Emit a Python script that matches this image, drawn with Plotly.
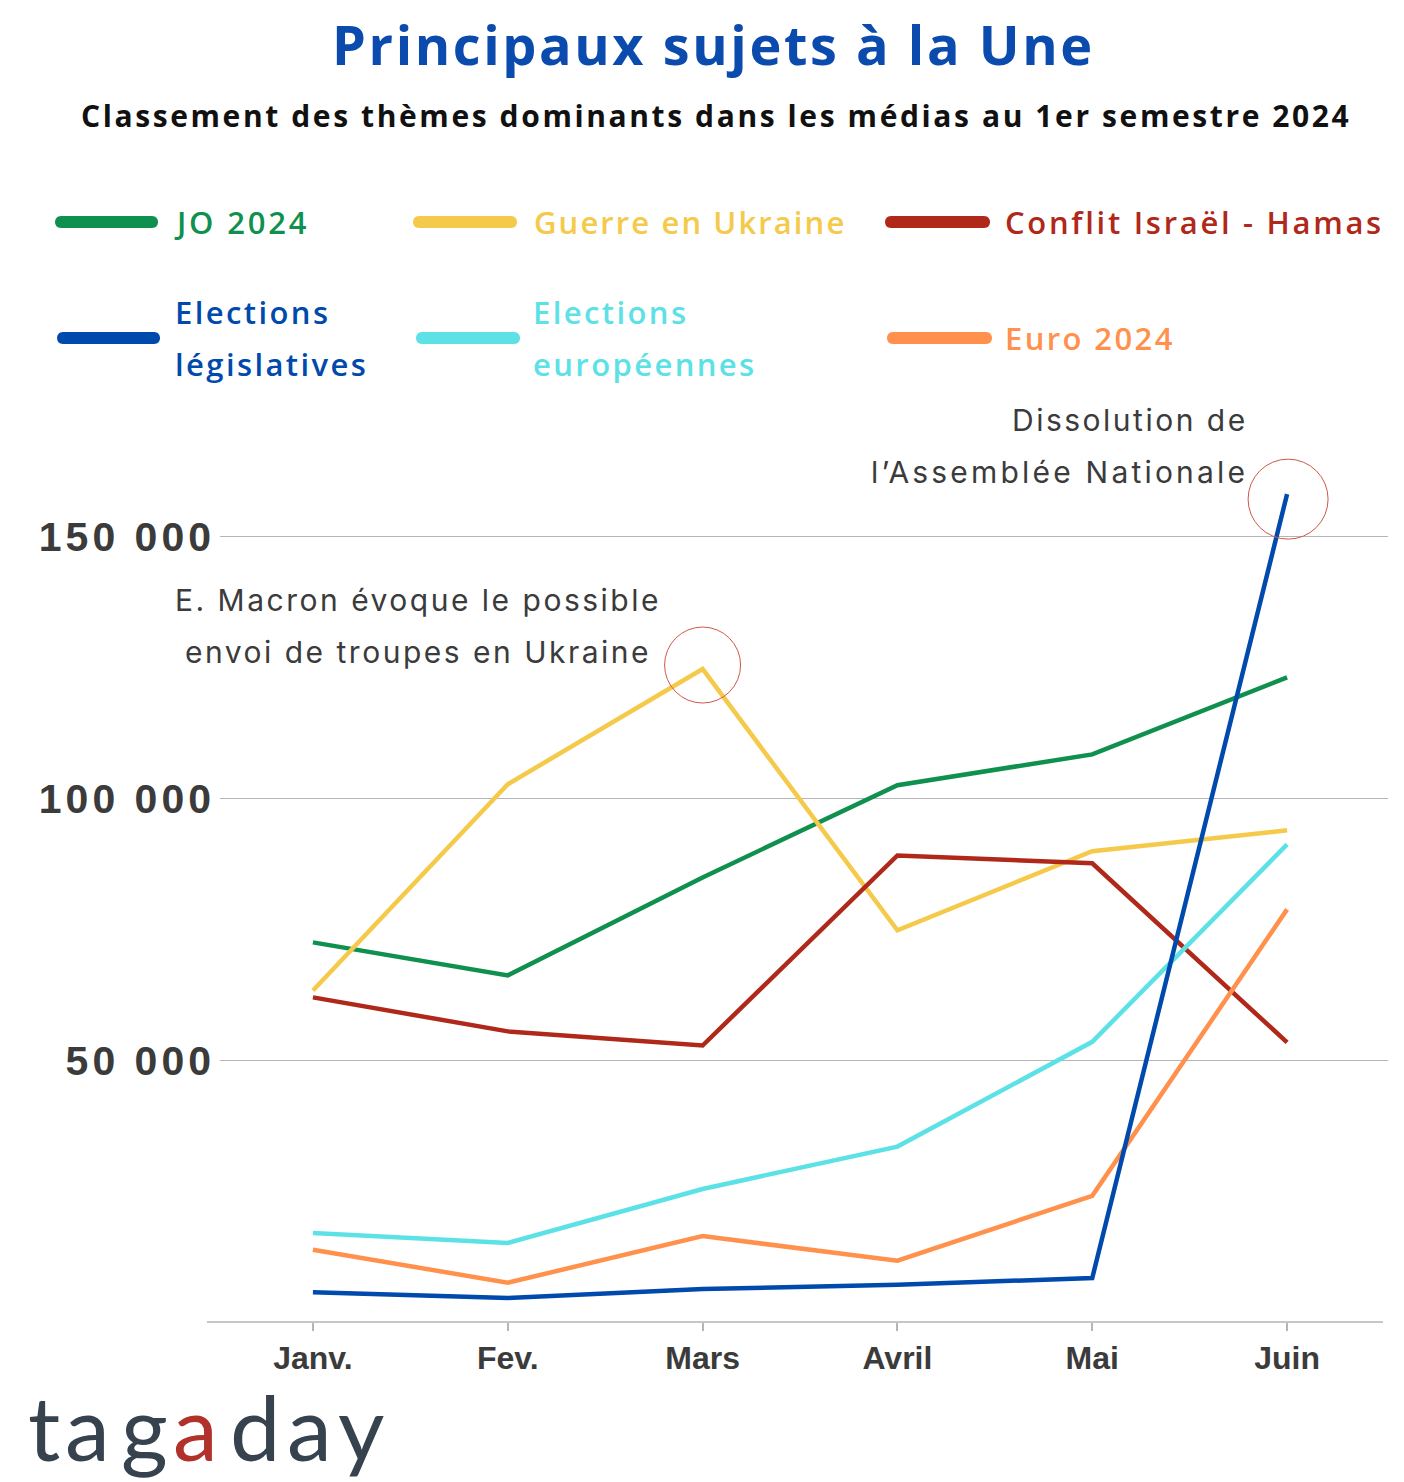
import plotly.graph_objects as go

months = ["Janv.", "Fev.", "Mars", "Avril", "Mai", "Juin"]
jo_2024 = [72500, 66200, 84900, 102500, 108400, 123100]
guerre_ukraine = [63300, 102700, 124700, 74800, 89900, 93900]
conflit_israel = [62000, 55500, 52800, 89100, 87600, 53400]
elections_legislatives = [5700, 4600, 6300, 7100, 8400, 158100]
elections_europeennes = [17000, 15100, 25400, 33500, 53500, 91200]
euro_2024 = [13800, 7500, 16400, 11700, 24100, 78800]

y_ticks = [50000, 100000, 150000]
y_tick_labels = ["50 000", "100 000", "150 000"]

series = [
    ("JO 2024", jo_2024, "#10904f"),
    ("Guerre en Ukraine", guerre_ukraine, "#f5c94a"),
    ("Conflit Israël - Hamas", conflit_israel, "#b0281a"),
    ("Elections européennes", elections_europeennes, "#5ce1e6"),
    ("Euro 2024", euro_2024, "#ff914d"),
    ("Elections législatives", elections_legislatives, "#004aad"),
]

OFF = 8  # page body margin
W, H = 1396, 1474
ML, MR, MT, MB = 212, 16, 450, 160
PW, PH = W - ML - MR, H - MT - MB
X0S, Y0S = ML + OFF, H - MB + OFF  # screen position of paper (0,0)


def px(sx):
    return (sx - X0S) / PW


def py(sy):
    return (Y0S - sy) / PH


def spaced(t, ls):
    return f"<span style='letter-spacing:{ls}px'>{t}</span>"


fig = go.Figure()
xs = list(range(len(months)))
for name, vals, color in series:
    fig.add_trace(go.Scatter(x=xs, y=vals, mode="lines", name=name,
                             line=dict(color=color, width=4.5),
                             showlegend=False, hoverinfo="skip"))

shapes = []
annotations = []

# custom legend: (lines of text, color, line x0, line x1, line y, text x, text y list, spacing)
legend_items = [
    (["JO 2024"], "#10904f", 55, 158, 222, 172, [222], 2.8),
    (["Guerre en Ukraine"], "#f5c94a", 413, 517, 222, 532, [222], 2.1),
    (["Conflit Israël - Hamas"], "#b0281a", 885, 990, 222, 1003, [222], 2.7),
    (["Elections", "législatives"], "#004aad", 57, 160, 338, 173, [312, 364], 2.4),
    (["Elections", "européennes"], "#5ce1e6", 416, 520, 338, 531, [312, 364], 2.4),
    (["Euro 2024"], "#ff914d", 887, 992, 338, 1003, [338], 2.4),
]
for lines, color, x0, x1, yl, tx, tys, ls in legend_items:
    a0 = x0 - X0S + 6
    a1 = x1 - X0S - 6
    yc = Y0S - yl
    r = 6
    path = (f"M {a0},{yc - r} L {a1},{yc - r} C {a1 + 8},{yc - r} {a1 + 8},{yc + r} {a1},{yc + r} "
            f"L {a0},{yc + r} C {a0 - 8},{yc + r} {a0 - 8},{yc - r} {a0},{yc - r} Z")
    shapes.append(dict(type="path", xref="paper", yref="paper", xsizemode="pixel", ysizemode="pixel",
                       xanchor=0, yanchor=0, path=path, fillcolor=color, line=dict(width=0)))
    for t, ty in zip(lines, tys):
        annotations.append(dict(text=spaced(t, ls), xref="paper", yref="paper", x=px(tx), y=py(ty),
                                xanchor="left", yanchor="middle", showarrow=False, align="left",
                                font=dict(family="Open Sans", size=31, color=color, weight=600)))

# x axis line
shapes.append(dict(type="line", xref="paper", yref="paper", x0=px(207), x1=px(1383), y0=0, y1=0,
                   line=dict(color="#b5b5b5", width=1.5)))

# red circles around highlighted points
shapes.append(dict(type="circle", xref="x", yref="y", xsizemode="pixel", ysizemode="pixel",
                   xanchor=2, yanchor=guerre_ukraine[2], x0=-38, x1=38, y0=-34, y1=42,
                   line=dict(color="#d0574a", width=1)))
shapes.append(dict(type="circle", xref="x", yref="y", xsizemode="pixel", ysizemode="pixel",
                   xanchor=5, yanchor=elections_legislatives[5], x0=-39, x1=41, y0=-45, y1=35,
                   line=dict(color="#d0574a", width=1)))

# titles
annotations.append(dict(text="<b>" + spaced("Principaux sujets à la Une", 2.6) + "</b>",
                        xref="paper", yref="paper", x=px(713), y=py(44.5), xanchor="center",
                        yanchor="middle", showarrow=False,
                        font=dict(family="Open Sans", size=54, color="#0a4bad")))
annotations.append(dict(text="<b>" + spaced("Classement des thèmes dominants dans les médias au 1er semestre 2024", 2.6) + "</b>",
                        xref="paper", yref="paper", x=px(716), y=py(115), xanchor="center",
                        yanchor="middle", showarrow=False,
                        font=dict(family="Open Sans", size=30, color="#111111")))

# event annotations
ann_font = dict(family="Inter", size=30, color="#3b3b3b")
for t, sy in [("E. Macron évoque le possible", 600), ("envoi de troupes en Ukraine", 652)]:
    annotations.append(dict(text=spaced(t, 2.5), xref="paper", yref="paper", x=px(418), y=py(sy),
                            xanchor="center", yanchor="middle", showarrow=False, font=ann_font))
for t, sy, ls in [("Dissolution de", 420, 2.5), ("l’Assemblée Nationale", 472, 3.2)]:
    annotations.append(dict(text=spaced(t, ls), xref="paper", yref="paper", x=px(1250), y=py(sy),
                            xanchor="right", yanchor="middle", showarrow=False, font=ann_font))

# logo, letter by letter
logo_letters = [("t", 44, "#37424f"), ("a", 87, "#37424f"), ("g", 144, "#37424f"),
                ("a", 195, "#b0322b"), ("d", 255, "#37424f"), ("a", 309, "#37424f"),
                ("y", 361, "#37424f")]
for ch, cx, col in logo_letters:
    annotations.append(dict(text=ch, xref="paper", yref="paper", x=px(cx), y=py(1426),
                            xanchor="center", yanchor="middle", showarrow=False,
                            font=dict(family="Lato", size=90, color=col, weight=400)))

fig.update_layout(
    width=W, height=H,
    margin=dict(l=ML, r=MR, t=MT, b=MB, pad=0),
    paper_bgcolor="white", plot_bgcolor="white",
    shapes=shapes, annotations=annotations,
    showlegend=False,
    xaxis=dict(range=[-0.477, 5.518], tickvals=xs, ticktext=months, showgrid=False,
               zeroline=False, showline=False, ticks="outside", ticklen=8,
               tickcolor="#b5b5b5", tickwidth=1.5,
               tickfont=dict(family="Liberation Sans", size=32, color="#3b3b3b", weight="bold")),
    yaxis=dict(range=[0, 165000], tickvals=y_ticks,
               ticktext=[spaced(t, 4) for t in y_tick_labels], showgrid=True,
               gridcolor="#b5b5b5", gridwidth=1.2, zeroline=False, showline=False,
               ticklabelstandoff=4,
               tickfont=dict(family="Liberation Sans", size=41, color="#3b3b3b", weight="bold")),
)

fig.write_html("out.html")
